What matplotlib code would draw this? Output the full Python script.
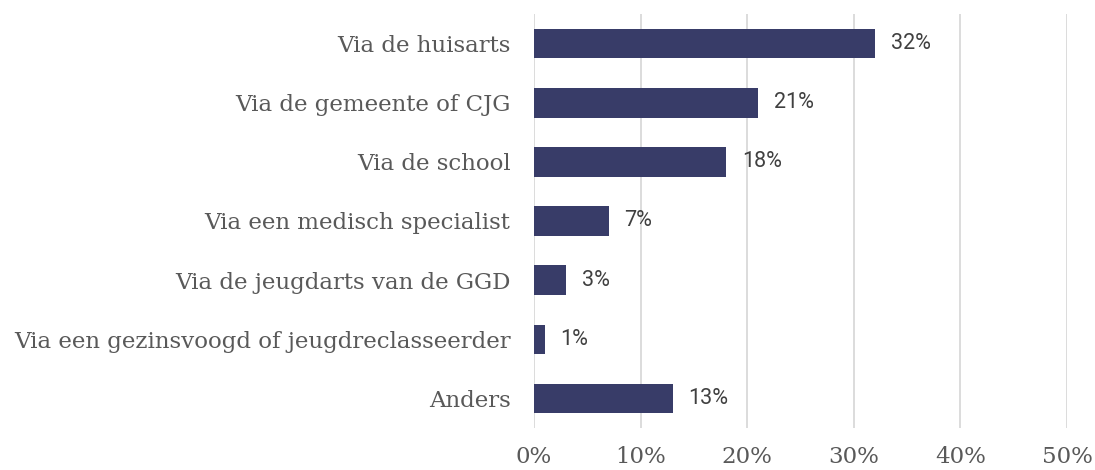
import matplotlib
matplotlib.use("Agg")
import matplotlib.pyplot as plt
from matplotlib.ticker import FuncFormatter

categories = [
    "Via de huisarts",
    "Via de gemeente of CJG",
    "Via de school",
    "Via een medisch specialist",
    "Via de jeugdarts van de GGD",
    "Via een gezinsvoogd of jeugdreclasseerder",
    "Anders",
]
values = [32, 21, 18, 7, 3, 1, 13]
xticks = [0, 10, 20, 30, 40, 50]

bar_color = "#383c68"
text_color = "#595959"

fig = plt.figure(figsize=(10.95, 4.7), dpi=100)
# axes box in pixels: left 534, right 1067, top 14, bottom 428
ax = fig.add_axes([534 / 1095, 1 - 428 / 470, (1067 - 534) / 1095, (428 - 14) / 470])

ypos = list(range(len(categories)))
ax.barh(ypos, values, height=0.5, color=bar_color, zorder=3)

for y, v in zip(ypos, values):
    ax.text(v + 1.5, y, "{}%".format(v), va="center", ha="left",
            fontsize=15.5, color="#404040", family="Roboto")

ax.set_yticks(ypos)
ax.set_yticklabels(categories, fontsize=16.5, color=text_color, family="DejaVu Serif")
ax.set_ylim(len(categories) - 0.5, -0.5)
ax.set_xlim(0, 50)
ax.set_xticks(xticks)
ax.xaxis.set_major_formatter(FuncFormatter(lambda x, p: "{:.0f}%".format(x)))
for lab in ax.get_xticklabels():
    lab.set_fontsize(16.5)
    lab.set_color(text_color)
    lab.set_family("DejaVu Serif")

ax.tick_params(axis="both", length=0)
ax.tick_params(axis="y", pad=17)
ax.tick_params(axis="x", pad=13)
ax.grid(axis="x", color="#d9d9d9", linewidth=1.3, zorder=0)
for s in ax.spines.values():
    s.set_visible(False)

fig.savefig("out.png", dpi=100)
